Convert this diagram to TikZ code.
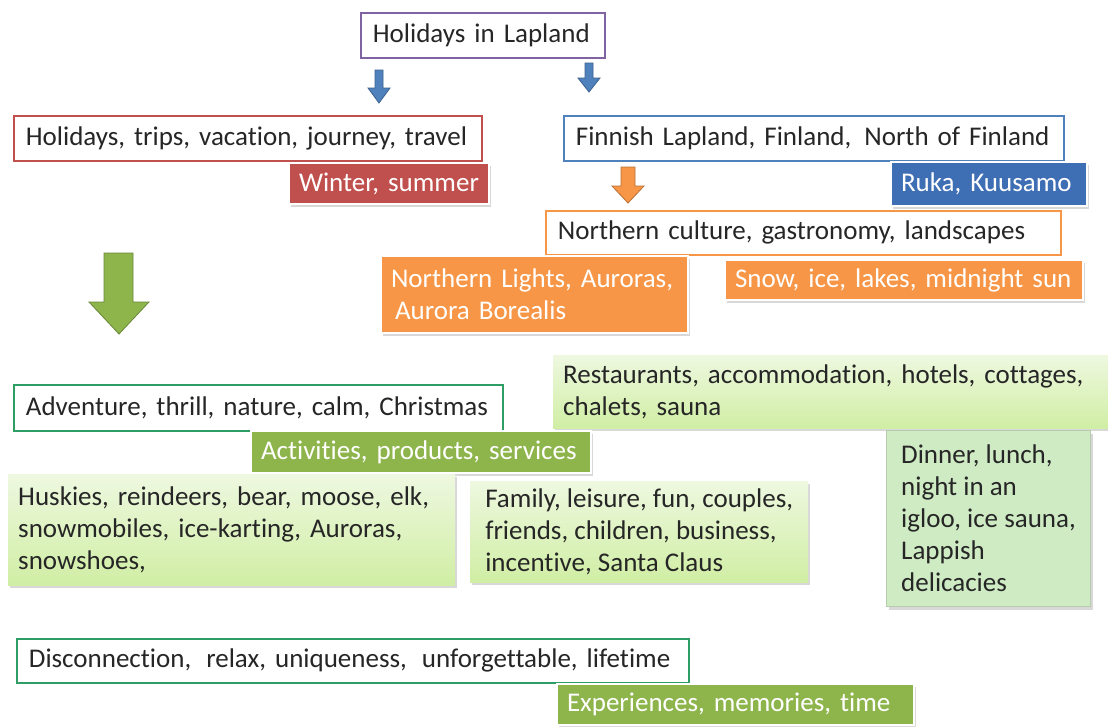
\documentclass[tikz,border=0pt]{standalone}
\usepackage{fontspec}
\setmainfont{Carlito}[Ligatures=NoCommon]
\usetikzlibrary{shadows}

\definecolor{txtgray}{HTML}{262626}
\definecolor{lapurple}{HTML}{8064A2}
\definecolor{lapred}{HTML}{C0504D}
\definecolor{lapblue}{HTML}{4F81BD}
\definecolor{rukablue}{HTML}{3E6EB4}
\definecolor{laporange}{HTML}{F79646}
\definecolor{lapgreen}{HTML}{2E9E64}
\definecolor{olive}{HTML}{8EB44C}
\definecolor{paletop}{HTML}{EEF8E0}
\definecolor{palebot}{HTML}{D0EEA4}
\definecolor{dinnerfill}{HTML}{CFEBC3}

\begin{document}
\begin{tikzpicture}[x=1pt,y=-1pt,
  every node/.style={font=\fontsize{27}{32}\selectfont, anchor=north west,
    inner xsep=12pt, inner ysep=0pt, align=left, text=txtgray},
  lined/.style={draw=#1, line width=1.8pt, fill=white},
  filled/.style={fill=#1, draw=white, line width=2pt, text=white, inner xsep=10pt,
    drop shadow={shadow xshift=2pt, shadow yshift=-3pt, opacity=0.3}},
  pale/.style={top color=paletop, bottom color=palebot, inner xsep=10pt,
    drop shadow={shadow xshift=2pt, shadow yshift=-3pt, opacity=0.3}},
  blockarrow/.style={fill=#1, draw=#1!75!black, line width=0.8pt}]

\fill[white] (0,0) rectangle (1108,726);
\useasboundingbox (0,0) rectangle (1108,726);

%% top
\node[lined=lapurple, text width=220pt, minimum height=45pt] (lapland) at (360,12) {Holidays in Lapland};

%% block arrows
\draw[blockarrow=lapblue] (375,70) -- (383,70) -- (383,88) -- (390,88) -- (379,103) -- (368,88) -- (375,88) -- cycle;
\draw[blockarrow=lapblue] (585,63) -- (593,63) -- (593,78) -- (600,78) -- (589,92) -- (578,78) -- (585,78) -- cycle;
\draw[blockarrow=laporange] (621,167) -- (635,167) -- (635,186) -- (644,186) -- (628,203) -- (612,186) -- (621,186) -- cycle;
\draw[blockarrow=olive] (104,253) -- (133,253) -- (133,302) -- (149,302) -- (119,334) -- (89,302) -- (104,302) -- cycle;

%% left branch
\node[lined=lapred, text width=444pt, minimum height=45pt] (trips) at (13,115) {Holidays, trips, vacation, journey, travel};
\node[filled=lapred, text width=180pt, minimum height=41pt] (winter) at (288,162) {Winter, summer};

%% right branch
\node[lined=lapblue, text width=476pt, minimum height=45pt] (finland) at (563,115) {Finnish Lapland, Finland,\hspace{4pt} North of Finland};
\node[filled=rukablue, text width=176pt, minimum height=44pt] (ruka) at (890,161) {Ruka, Kuusamo};
\node[lined=laporange, text width=491pt, minimum height=44pt] (culture) at (545,210) {Northern culture, gastronomy, landscapes};
\node[filled=laporange, text width=287pt, minimum height=77pt] (lights) at (380,255) {Northern Lights, Auroras,\\\hspace{4pt}Aurora Borealis};
\node[filled=laporange, text width=338pt, minimum height=40pt] (snow) at (724,259) {Snow, ice, lakes, midnight sun};

%% middle
\node[pale, text width=535pt, minimum height=73pt] (stay) at (553,355) {Restaurants, accommodation, hotels, cottages,\\chalets, sauna};
\node[lined=lapgreen, text width=465pt, minimum height=46pt] (adventure) at (13,384) {Adventure, thrill, nature, calm, Christmas};
\node[filled=olive, text width=320pt, minimum height=42pt] (activities) at (250,430) {Activities, products, services};
\node[pale, text width=427pt, minimum height=111pt] (huskies) at (8,474) {Huskies, reindeers, bear, moose, elk,\\snowmobiles, ice-karting, Auroras,\\snowshoes,};
\node[pale, minimum width=338pt, minimum height=101pt] (family) at (470,481) {Family, leisure, fun, couples,\\friends, children, business,\\incentive, Santa Claus};
\node[fill=dinnerfill, draw=dinnerfill!70!gray, line width=1pt, minimum width=204pt, minimum height=176pt,
  drop shadow={shadow xshift=2pt, shadow yshift=-3pt, opacity=0.3}] (dinner) at (886,430) {Dinner, lunch,\\night in an\\igloo, ice sauna,\\Lappish\\delicacies};

%% bottom
\node[lined=lapgreen, text width=648pt, minimum height=44pt] (disconnect) at (16,638) {Disconnection,\hspace{6pt} relax, uniqueness,\hspace{6pt} unforgettable, lifetime};
\node[filled=olive, text width=337pt, minimum height=41pt] (experiences) at (556,683) {Experiences, memories, time};

\end{tikzpicture}
\end{document}
